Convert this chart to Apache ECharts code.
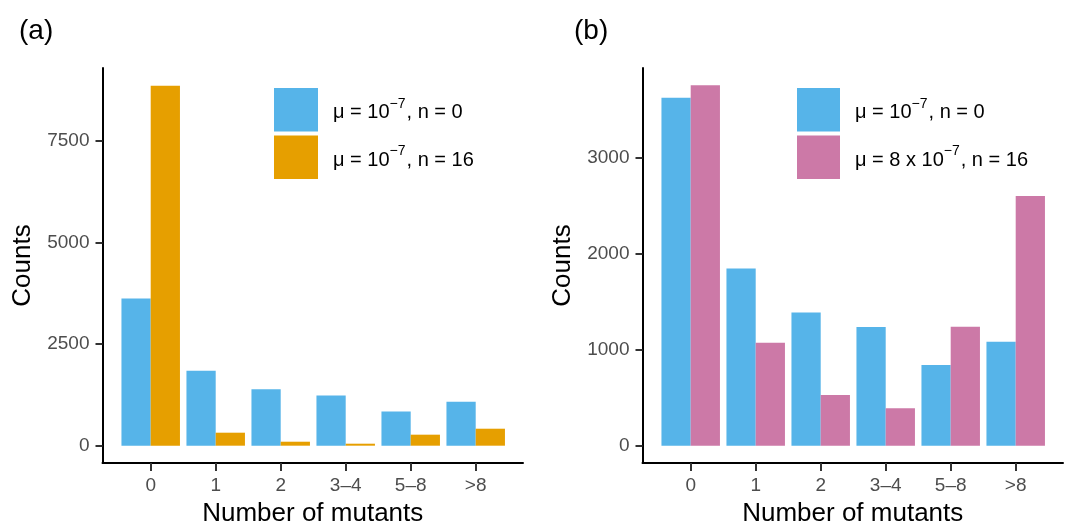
<!DOCTYPE html>
<html>
<head>
<meta charset="utf-8">
<script src="https://cdn.jsdelivr.net/npm/echarts@6/dist/echarts.min.js"></script>
<style>
html,body{margin:0;padding:0;background:#fff;}
#chart{width:1068px;height:527px;}
</style>
</head>
<body>
<div id="chart"></div>
<script>
// ---- data ----
const categories = ['0', '1', '2', '3\u20134', '5\u20138', '>8'];
const baseline = [3625, 1847, 1387, 1237, 840, 1082];      // mu = 1e-7, n = 0
const panelA16 = [8860, 320, 98, 49, 271, 418];           // mu = 1e-7, n = 16
const panelB16 = [3754, 1073, 528, 389, 1240, 2601];      // mu = 8e-7, n = 16
const ticksA = [0, 2500, 5000, 7500];
const ticksB = [0, 1000, 2000, 3000];

const FONT = "'Liberation Sans', Arial, Helvetica, sans-serif";
const BLUE = '#56B4E9', ORANGE = '#E69F00', PINK = '#CC79A7';

const legendText = {
  A0: '{t|\u03BC = 10}{s|\u22127}{t|, n = 0}',
  A16: '{t|\u03BC = 10}{s|\u22127}{t|, n = 16}',
  B0: '{t|\u03BC = 10}{s|\u22127}{t|, n = 0}',
  B16: '{t|\u03BC = 8 x 10}{s|\u22127}{t|, n = 16}'
};
const rich = {
  t: {fontSize: 20, fontFamily: FONT, color: '#000', lineHeight: 26, verticalAlign: 'bottom'},
  s: {fontSize: 14, fontFamily: FONT, color: '#000', lineHeight: 26, verticalAlign: 'top', padding: [0, 1, 9, 0]}
};

const BAND_W = 390, FRAME_W = 420.5, INSET = 15.7;

function panel(offsetX, yMin, yMax, ticks, gi) {
  const frameLeft = offsetX + 102.5;
  const bandLeft = frameLeft + INSET;
  const step = BAND_W / categories.length;
  return {
    grids: [
      {left: bandLeft, top: 68, width: BAND_W, height: 395, outerBoundsMode: 'none'},
      {left: frameLeft, top: 68, width: FRAME_W, height: 395, outerBoundsMode: 'none'},
      // thin strip under the axis line: its split lines act as the x tick marks
      {left: bandLeft + step / 2, top: 464, width: BAND_W - step, height: 7, outerBoundsMode: 'none'}
    ],
    xAxes: [
      {type: 'category', gridIndex: gi, data: categories,
       axisLine: {show: true, onZero: false, lineStyle: {color: '#000', width: 2}},
       axisTick: {show: true, alignWithLabel: true, length: 7, lineStyle: {color: '#333', width: 2}},
       axisLabel: {color: '#4d4d4d', fontSize: 19, fontFamily: FONT, margin: 13}},
      {type: 'value', gridIndex: gi + 1, min: 0, max: 1,
       axisLine: {show: true, onZero: false, lineStyle: {color: '#000', width: 2}},
       axisTick: {show: false}, axisLabel: {show: false}, splitLine: {show: false},
       name: 'Number of mutants', nameLocation: 'middle', nameGap: 38,
       nameTextStyle: {fontSize: 26, fontFamily: FONT, color: '#000'}},
      {type: 'category', gridIndex: gi + 2, data: categories, boundaryGap: false,
       axisLine: {show: false}, axisTick: {show: false}, axisLabel: {show: false},
       splitLine: {show: true, interval: 0, lineStyle: {color: '#333', width: 2}}}
    ],
    yAxes: [
      {type: 'value', gridIndex: gi, min: yMin, max: yMax, offset: INSET,
       axisLine: {show: true, onZero: false, lineStyle: {color: '#000', width: 2}},
       axisTick: {show: true, customValues: ticks, length: 7, lineStyle: {color: '#333', width: 2}},
       axisLabel: {customValues: ticks, formatter: v => String(v), color: '#4d4d4d', fontSize: 19, fontFamily: FONT, margin: 13},
       splitLine: {show: false},
       name: 'Counts', nameLocation: 'middle', nameGap: 67, nameRotate: 90,
       nameTextStyle: {fontSize: 26, fontFamily: FONT, color: '#000'}},
      {type: 'value', gridIndex: gi + 1, show: false, min: 0, max: 1},
      {type: 'value', gridIndex: gi + 2, show: false, min: 0, max: 1}
    ]
  };
}

const pa = panel(0, -426, 9296, ticksA, 0);
const pb = panel(540, -180, 3934, ticksB, 3);

const barStyle = {barGap: '0%', barCategoryGap: '10%'};

const option = {
  animation: false,
  backgroundColor: '#fff',
  title: [
    {text: '(a)', left: 14, top: 12, textStyle: {fontSize: 28, fontWeight: 'normal', fontFamily: FONT, color: '#000'}},
    {text: '(b)', left: 569, top: 12, textStyle: {fontSize: 28, fontWeight: 'normal', fontFamily: FONT, color: '#000'}}
  ],
  grid: [...pa.grids, ...pb.grids],
  xAxis: [...pa.xAxes, ...pb.xAxes],
  yAxis: [...pa.yAxes, ...pb.yAxes],
  legend: [
    {data: ['A0', 'A16'], left: 274, top: 88, padding: 0, orient: 'vertical', icon: 'rect',
     itemWidth: 44, itemHeight: 43.5, itemGap: 4, selectedMode: false,
     formatter: n => legendText[n], textStyle: {padding: [0, 0, 0, 10], rich: rich}},
    {data: ['B0', 'B16'], left: 797, top: 88, padding: 0, orient: 'vertical', icon: 'rect',
     itemWidth: 43, itemHeight: 43.5, itemGap: 4, selectedMode: false,
     formatter: n => legendText[n], textStyle: {padding: [0, 0, 0, 10], rich: rich}}
  ],
  series: [
    Object.assign({name: 'A0', type: 'bar', xAxisIndex: 0, yAxisIndex: 0, data: baseline, itemStyle: {color: BLUE}}, barStyle),
    Object.assign({name: 'A16', type: 'bar', xAxisIndex: 0, yAxisIndex: 0, data: panelA16, itemStyle: {color: ORANGE}}, barStyle),
    Object.assign({name: 'B0', type: 'bar', xAxisIndex: 3, yAxisIndex: 3, data: baseline, itemStyle: {color: BLUE}}, barStyle),
    Object.assign({name: 'B16', type: 'bar', xAxisIndex: 3, yAxisIndex: 3, data: panelB16, itemStyle: {color: PINK}}, barStyle)
  ]
};

const chart = echarts.init(document.getElementById('chart'), null, {renderer: 'canvas'});
chart.setOption(option);
</script>
</body>
</html>
